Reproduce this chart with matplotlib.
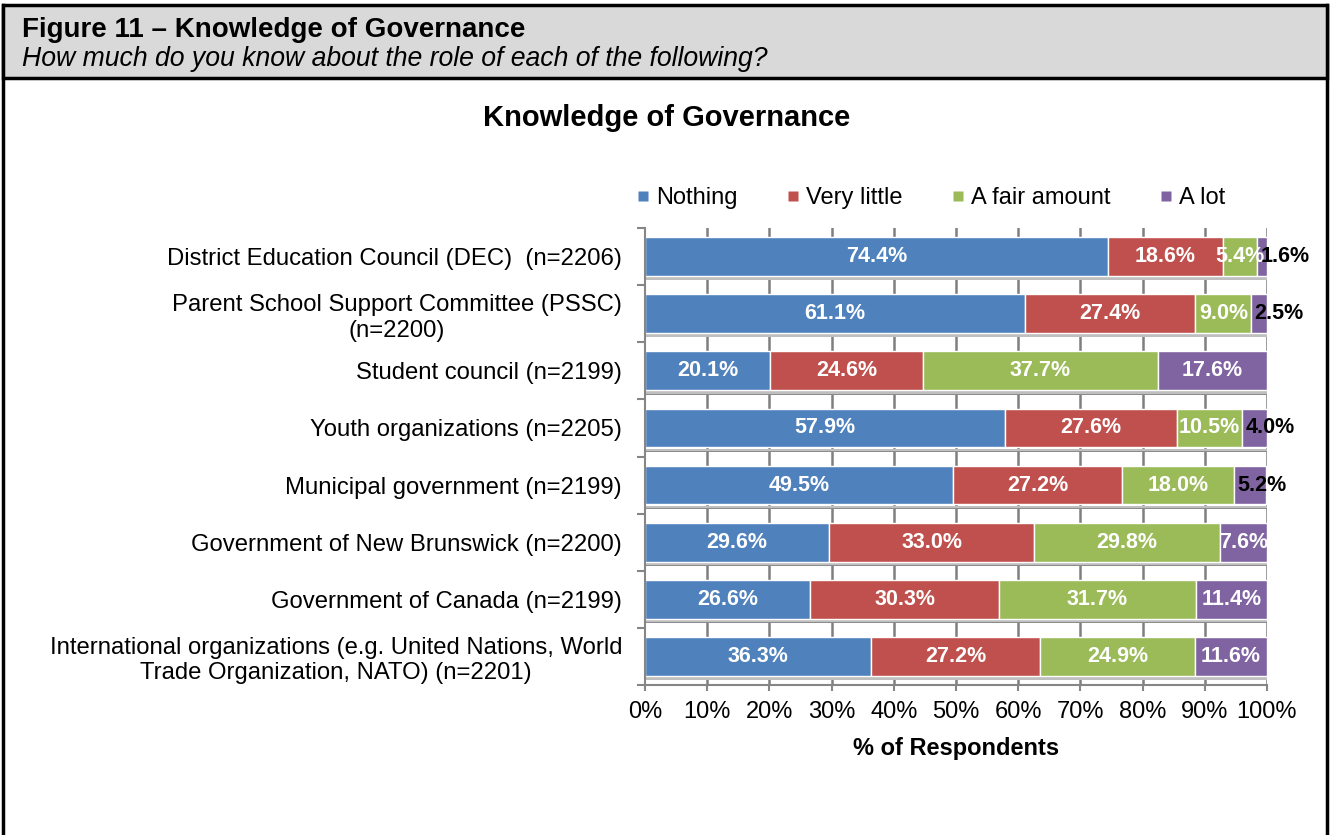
import matplotlib
matplotlib.use("Agg")
import matplotlib.pyplot as plt
from matplotlib.lines import Line2D
from matplotlib.patches import Rectangle
import numpy as np

plt.rcParams["font.family"] = ["Liberation Sans", "DejaVu Sans"]

categories = [
    "District Education Council (DEC)  (n=2206)",
    "Parent School Support Committee (PSSC)\n(n=2200)",
    "Student council (n=2199)",
    "Youth organizations (n=2205)",
    "Municipal government (n=2199)",
    "Government of New Brunswick (n=2200)",
    "Government of Canada (n=2199)",
    "International organizations (e.g. United Nations, World\nTrade Organization, NATO) (n=2201)",
]
nothing = [74.4, 61.1, 20.1, 57.9, 49.5, 29.6, 26.6, 36.3]
very_little = [18.6, 27.4, 24.6, 27.6, 27.2, 33.0, 30.3, 27.2]
fair_amount = [5.4, 9.0, 37.7, 10.5, 18.0, 29.8, 31.7, 24.9]
a_lot = [1.6, 2.5, 17.6, 4.0, 5.2, 7.6, 11.4, 11.6]

series_names = ["Nothing", "Very little", "A fair amount", "A lot"]
series_values = [nothing, very_little, fair_amount, a_lot]
colors = ["#4F81BD", "#C0504D", "#9BBB59", "#8064A2"]
x_ticks = list(range(0, 101, 10))

W, H = 1330, 835
fig = plt.figure(figsize=(W / 100, H / 100), dpi=100)

# frame (open at the bottom) and grey caption band
fig.patches.append(Rectangle((3 / W, 1 - 78 / H), 1 - 6 / W, 73 / H, transform=fig.transFigure,
                             facecolor="#D9D9D9", edgecolor="black", linewidth=2.5, zorder=4))
for xs, ys in [([3 / W, 3 / W], [0, 1 - 5 / H]), ([1 - 3 / W, 1 - 3 / W], [0, 1 - 5 / H])]:
    fig.add_artist(Line2D(xs, ys, transform=fig.transFigure, color="black", linewidth=2.5))
fig.text(22 / W, 1 - 30 / H, "Figure 11 \u2013 Knowledge of Governance", fontsize=20,
         fontweight="bold", va="center", ha="left", zorder=6)
fig.text(22 / W, 1 - 59 / H, "How much do you know about the role of each of the following?",
         fontsize=19.2, fontstyle="italic", va="center", ha="left", zorder=6)

fig.text(667 / W, 1 - 118 / H, "Knowledge of Governance", fontsize=21, fontweight="bold",
         ha="center", va="center")

ax = fig.add_axes([645 / W, 1 - 685 / H, (1267 - 645) / W, (685 - 228) / H])
y = np.arange(len(categories))
bar_h = 0.68

# vertical gridlines and the pseudo-3D floor under each bar
for xv in x_ticks[1:]:
    ax.axvline(xv, color="#7F7F7F", linewidth=1.8, zorder=0)
ax.barh(y + bar_h / 2 + 0.045, 100, height=0.05, left=0, color="#BFBFBF",
        edgecolor="none", zorder=1)
ax.barh(y + bar_h / 2 + 0.07, 100, height=0.012, left=0, color="#8C8C8C",
        edgecolor="none", zorder=1)

left = np.zeros(len(categories))
for name, vals, col in zip(series_names, series_values, colors):
    vals = np.array(vals)
    ax.barh(y, vals, left=left, height=bar_h, color=col, edgecolor="white",
            linewidth=1.0, label=name, zorder=2)
    for yi, l, v in zip(y, left, vals):
        if name == "A lot" and v < 7:
            ax.text(l + 0.5, yi, f"{v:.1f}%", ha="left", va="center", fontsize=15.5,
                    fontweight="bold", color="black", zorder=3, clip_on=False)
        else:
            ax.text(l + v / 2, yi, f"{v:.1f}%", ha="center", va="center", fontsize=15.5,
                    fontweight="bold", color="white", zorder=3)
    left += vals

ax.set_xlim(0, 100)
ax.set_ylim(len(categories) - 0.5, -0.5)
ax.set_xticks(x_ticks)
ax.set_xticklabels([f"{t}%" for t in x_ticks], fontsize=17)
ax.set_yticks(y)
ax.set_yticklabels(categories, fontsize=17.2)
for t in ax.get_yticklabels():
    t.set_multialignment("center")
ax.set_yticks(np.arange(len(categories) + 1) - 0.5, minor=True)
ax.tick_params(axis="y", which="major", length=0, pad=16.5)
ax.tick_params(axis="y", which="minor", length=6, width=1.5, color="#868686")
ax.tick_params(axis="x", length=4.5, width=1.5, color="#868686", pad=7)
for side in ["top", "right"]:
    ax.spines[side].set_visible(False)
for side in ["left", "bottom"]:
    ax.spines[side].set_color("#868686")
    ax.spines[side].set_linewidth(1.5)
ax.set_facecolor("none")

fig.text(956 / W, 1 - 748 / H, "% of Respondents", fontsize=17, fontweight="bold",
         ha="center", va="center")

handles = [Line2D([], [], marker="s", linestyle="none", markersize=7, color=c,
                  markeredgecolor="none") for c in colors]
fig.legend(handles, series_names, loc="center", bbox_to_anchor=(931 / W, 1 - 198 / H),
           ncol=4, frameon=False, fontsize=17, handlelength=0.5, handletextpad=0.3,
           columnspacing=2.1, borderaxespad=0)

fig.savefig("out.png", dpi=100)
